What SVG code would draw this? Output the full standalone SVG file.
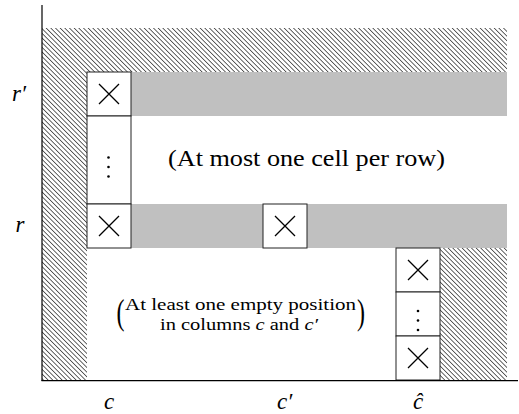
<svg xmlns="http://www.w3.org/2000/svg" width="519" height="414" viewBox="0 0 519 414">
  <defs>
    <pattern id="hatch" patternUnits="userSpaceOnUse" width="10" height="3.3" patternTransform="rotate(45)">
      <rect x="0" y="0" width="10" height="0.6" fill="#000"/>
    </pattern>
  </defs>
  <style>
    .hatch { fill: url(#hatch); stroke: none; }
    .band { fill: #c0c0c0; stroke: none; }
    .cell { fill: #fff; stroke: #222; stroke-width: 1; }
    .x { stroke: #000; stroke-width: 1.3; fill: none; }
    .dot { fill: #000; }
    text { font-family: 'Liberation Serif', 'DejaVu Serif', serif; fill: #000; }
    .math { font-style: italic; font-size: 23px; }
    .axis { stroke: #000; fill: none; }
  </style>

  <g id="hatched-regions">
    <rect class="hatch" x="42" y="28" width="465" height="44"/>
    <rect class="hatch" x="42" y="72" width="45" height="308"/>
    <rect class="hatch" x="440" y="248" width="67" height="132"/>
  </g>

  <g id="row-bands">
    <rect class="band" x="131" y="72" width="376" height="44"/>
    <rect class="band" x="131" y="204" width="376" height="44"/>
  </g>

  <g id="cell-c-rprime">
    <rect class="cell" x="87" y="72" width="44" height="44"/>
    <path class="x" d="M99,84 L119,104 M119,84 L99,104"/>
  </g>
  <g id="cell-c-dots">
    <rect class="cell" x="87" y="116" width="44" height="88"/>
    <circle class="dot" cx="108.5" cy="157.5" r="1.3"/>
    <circle class="dot" cx="108.5" cy="167" r="1.3"/>
    <circle class="dot" cx="108.5" cy="176.5" r="1.3"/>
  </g>
  <g id="cell-c-r">
    <rect class="cell" x="87" y="204" width="44" height="44"/>
    <path class="x" d="M99,216 L119,236 M119,216 L99,236"/>
  </g>
  <g id="cell-cprime-r">
    <rect class="cell" x="263" y="204" width="44" height="44"/>
    <path class="x" d="M275,216 L295,236 M295,216 L275,236"/>
  </g>
  <g id="cell-chat-1">
    <rect class="cell" x="396" y="248" width="44" height="44"/>
    <path class="x" d="M408,260 L428,280 M428,260 L408,280"/>
  </g>
  <g id="cell-chat-dots">
    <rect class="cell" x="396" y="292" width="44" height="44"/>
    <circle class="dot" cx="418" cy="311" r="1.3"/>
    <circle class="dot" cx="418" cy="320.5" r="1.3"/>
    <circle class="dot" cx="418" cy="330" r="1.3"/>
  </g>
  <g id="cell-chat-2">
    <rect class="cell" x="396" y="336" width="44" height="44"/>
    <path class="x" d="M408,348 L428,368 M428,348 L408,368"/>
  </g>

  <g id="axes">
    <line class="axis" x1="42" y1="5" x2="42" y2="381" stroke="#555" stroke-width="1.2"/>
    <line class="axis" x1="41.5" y1="380.7" x2="518" y2="380.7" stroke-width="1.3"/>
  </g>

  <g id="labels">
    <text class="math" x="12" y="101">r′</text>
    <text class="math" x="20" y="232" text-anchor="middle">r</text>
    <text class="math" x="109" y="409" text-anchor="middle">c</text>
    <text class="math" x="277" y="409">c′</text>
    <text class="math" x="418" y="409" text-anchor="middle">ĉ</text>
  </g>

  <g id="note-row">
    <text x="168" y="166" font-size="23" textLength="277" lengthAdjust="spacingAndGlyphs">(At most one cell per row)</text>
  </g>

  <g id="note-columns">
    <text font-size="24" transform="translate(116.5,324) scale(1,1.5)">(</text>
    <text x="125" y="310" font-size="16" textLength="231" lengthAdjust="spacingAndGlyphs">At least one empty position</text>
    <text x="160" y="330" font-size="16" textLength="158" lengthAdjust="spacingAndGlyphs">in columns <tspan font-style="italic">c</tspan> and <tspan font-style="italic">c′</tspan></text>
    <text font-size="24" transform="translate(357,324) scale(1,1.5)">)</text>
  </g>
</svg>
